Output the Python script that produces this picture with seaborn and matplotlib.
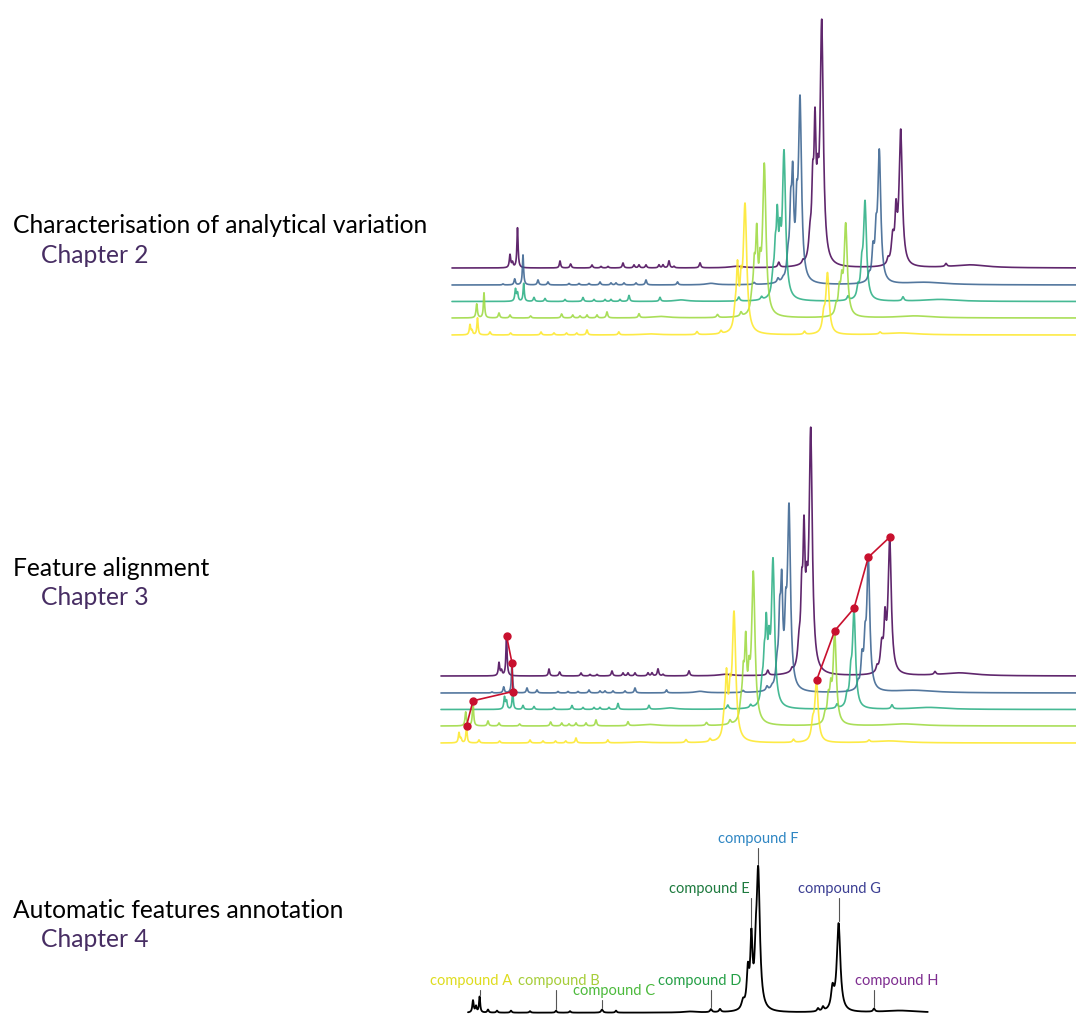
import numpy as np
import pandas as pd
import seaborn as sns
import matplotlib.pyplot as plt

# peak tables: (position, height, width), x in px-like shift units
purple_peaks = [(510, 13, 1.6), (512.5, 5, 1.6), (517.5, 40, 1.4), (560, 7, 1.5), (570.6, 4, 1.7),
                (592, 3, 1.7), (601, 1.5, 1.7), (608, 1.5, 1.7), (623, 5, 1.7), (634, 3, 1.7),
                (639, 3, 1.7), (646, 3, 1.7), (659, 3, 1.7), (663, 3, 1.7), (669, 7, 1.7),
                (674, 1.5, 1.7), (700, 5, 1.8), (736, 1.5, 15), (778.8, 5, 2.2), (803, 3, 2.2),
                (810, 22, 3.2), (812.7, 62, 2.4), (815, 120, 2.4), (817.7, 46, 2.4), (821.7, 240, 3.8),
                (888, 5, 2.2), (892.7, 25, 3.2), (896, 45, 2.4), (900.7, 135, 3.8),
                (946, 3, 2.2), (970, 3, 40)]
blue_peaks = [(503, 1, 1.6), (514.7, 6, 1.6), (523, 30, 1.4), (538, 5, 1.7), (548, 3, 1.7),
              (569, 1.5, 1.7), (579, 1.5, 1.7), (589, 1.5, 1.7), (600, 3, 1.7), (611, 2, 1.7),
              (616, 2, 1.7), (624, 2, 1.7), (636, 2, 1.7), (646, 5, 1.7), (677.5, 3, 1.7),
              (711, 1.5, 12), (754, 2, 2.2), (778, 4, 2.2), (783, 2, 2.2),
              (788, 20, 3.2), (790.7, 58, 2.4), (792.7, 92, 2.4), (796.7, 52, 2.4), (800, 180, 3.6),
              (869, 6, 2.2), (873, 28, 2.7), (876, 35, 2.4), (879.3, 130, 3.6), (925, 2.5, 50)]
green_peaks = [(515.5, 12, 1.6), (517.5, 8, 1.6), (523.7, 18, 1.4), (534, 4, 1.7), (545, 3, 1.7),
               (565, 2, 1.7), (583, 4, 1.7), (594, 2, 1.7), (605, 2, 1.7), (611, 2, 1.7),
               (620, 2, 1.7), (629, 6, 1.7), (660, 4, 1.7), (681, 1.5, 15), (738.8, 4, 2.2),
               (761.6, 3, 2.2), (773, 18, 3.2), (775.3, 34, 2.4), (777.3, 68, 2.4), (780, 43, 2.4),
               (784, 145, 3.8), (848, 4, 2.2), (858, 10, 2.7), (861.7, 25, 2.7), (865, 97, 3.6),
               (903, 4, 2.2), (940, 2, 40)]
yellowgreen_peaks = [(476.7, 14, 1.6), (484, 25, 1.4), (499, 5, 1.7), (510, 3, 1.7), (530.6, 2, 1.7),
                     (561.6, 4, 1.7), (572.7, 3, 1.7), (580, 2, 1.7), (587, 3, 1.7), (597, 3, 1.7),
                     (607, 6, 1.7), (639, 4, 1.7), (660, 1.5, 20), (717.5, 3, 2.2), (741, 4, 2.2),
                     (752, 15, 3.2), (754.3, 38, 2.4), (756.7, 72, 2.4), (760, 33, 2.4), (764.3, 150, 4.0),
                     (836, 8, 2.7), (839.3, 22, 2.7), (841.7, 25, 2.4), (845.7, 92, 3.8), (915, 2, 40)]
yellow_peaks = [(470, 10, 1.6), (472, 4, 1.6), (477.5, 17, 1.4), (490, 3, 1.7), (510.6, 2, 1.7),
                (541, 3, 1.7), (554, 2, 1.7), (566.5, 2, 1.7), (576.7, 2, 1.7), (587, 5, 1.7),
                (618.8, 3, 1.7), (650, 1, 20), (697, 3, 2.2), (721, 3, 2.2),
                (735, 15, 3.2), (737.5, 58, 2.7), (741, 33, 2.4), (745, 127, 4.2), (804.5, 3, 2.2),
                (823.7, 15, 3.2), (827.5, 60, 3.9), (880, 2, 2.2), (900, 2, 40)]

sample_names = ['s1', 's2', 's3', 's4', 's5']
sample_offsets = [67, 50, 33.5, 17, 0]

# alignment chains (red): peak positions per sample
aligned_left = [517.5, 523, 523.7, 484, 477.5]
aligned_right = [900.7, 879.3, 865, 845.7, 827.5]

# annotated spectrum (chapter 4)
annot_peaks = [(473, 12, 1.6), (476, 6, 1.6), (479.6, 16, 1.4), (488, 3, 1.7), (497, 2, 1.7),
               (511, 2, 1.7), (530, 1.5, 1.7), (556, 2, 1.7), (570, 1.5, 1.7), (602, 3, 2.2),
               (616, 2, 1.7), (690, 1, 15), (711, 3, 2.2), (720, 3, 2.2),
               (743, 8, 3.5), (747.9, 36, 2.8), (751.4, 66, 2.6), (755.7, 32, 2.4), (758.2, 138, 4.0),
               (818, 3, 2.2), (823, 4, 2.2), (832.5, 20, 3.4), (838.6, 88, 4.2), (874, 3, 2.2), (900, 2, 40)]
compounds = ['compound A', 'compound B', 'compound C', 'compound D',
             'compound E', 'compound F', 'compound G', 'compound H']
compound_pos = [479.6, 555.7, 602, 711, 751.4, 758.2, 838.6, 874]
compound_colors = ['#dedc1e', '#a6cd39', '#4cba3c', '#26a047', '#1d7a3e', '#2f86c3', '#3c3f93', '#7e2d90']

titles = ['Characterisation of analytical variation', 'Feature alignment', 'Automatic features annotation']
chapters = ['Chapter 2', 'Chapter 3', 'Chapter 4']


def spectrum(x, peaks):
    y = np.zeros_like(x)
    for p, h, w in peaks:
        y += h / (1 + ((x - p) / (w / 2)) ** 2)
    return y


W, H = 1076, 1014
sns.set_theme(style='white')
plt.rcParams['font.family'] = ['Lato', 'DejaVu Sans']
fig = plt.figure(figsize=(W / 100, H / 100), dpi=100)

x = np.arange(452, 1092, 0.25)
all_peaks = [purple_peaks, blue_peaks, green_peaks, yellowgreen_peaks, yellow_peaks]
frames = []
for name, off, pk in zip(sample_names, sample_offsets, all_peaks):
    frames.append(pd.DataFrame({'shift': x, 'signal': spectrum(x, pk) + off, 'sample': name}))
df = pd.concat(frames, ignore_index=True)
palette = [plt.cm.viridis(v) for v in [0.0, 0.3, 0.62, 0.85, 1.0]]


def px_axes(left, top, right, bottom):
    ax = fig.add_axes([left / W, 1 - bottom / H, (right - left) / W, (bottom - top) / H])
    ax.set_axis_off()
    return ax


# panel 1
ax1 = px_axes(440, 0, 1076, 345)
sns.lineplot(data=df, x='shift', y='signal', hue='sample', palette=palette, legend=False,
             estimator=None, sort=False, lw=1.2, alpha=0.85, ax=ax1)
ax1.set_xlim(440, 1076)
ax1.set_ylim(-10, 335)

# panel 2 (same spectra, with alignment)
ax2 = px_axes(440, 408, 1076, 753)
sns.lineplot(data=df, x='shift', y='signal', hue='sample', palette=palette, legend=False,
             estimator=None, sort=False, lw=1.2, alpha=0.85, ax=ax2)
ax2.set_xlim(451, 1087)
ax2.set_ylim(-10, 335)
for chain in [aligned_left, aligned_right]:
    ys = [np.interp(p, x, spectrum(x, pk)) + off for p, pk, off in zip(chain, all_peaks, sample_offsets)]
    ax2.plot(chain, ys, color='#c8102e', lw=1.2, marker='o', ms=5, zorder=5)

# panel 3
ax3 = px_axes(440, 800, 1076, 1014)
x3 = np.arange(468, 928, 0.25)
y3 = spectrum(x3, annot_peaks)
sns.lineplot(x=x3, y=y3, color='black', lw=1.3, estimator=None, sort=False, ax=ax3)
ax3.set_xlim(440, 1076)
ax3.set_ylim(-1.3, 212.7)

label_x = [471.5, 558.5, 614, 700, 709, 757.8, 839, 897]
tick_top = [22.7, 22.7, 12.7, 22.7, 114.7, 164.7, 114.7, 22.7]
for name, pos, col, lx, tt in zip(compounds, compound_pos, compound_colors, label_x, tick_top):
    top = np.interp(pos, x3, y3)
    ax3.plot([pos, pos], [top + 2, tt], color='#555555', lw=0.8)
    ax3.text(lx, tt + 2.5, name, color=col, fontsize=10.5, ha='center', va='bottom')

# left texts
title_base = [233, 576, 918]
chapter_base = [263, 605, 947]
for t, c, tb, cb in zip(titles, chapters, title_base, chapter_base):
    fig.text(13 / W, 1 - tb / H, t, fontsize=17.7, color='black', va='baseline', ha='left')
    fig.text(41 / W, 1 - cb / H, c, fontsize=17.7, color='#472d63', va='baseline', ha='left')

fig.savefig('out.png', dpi=100)
